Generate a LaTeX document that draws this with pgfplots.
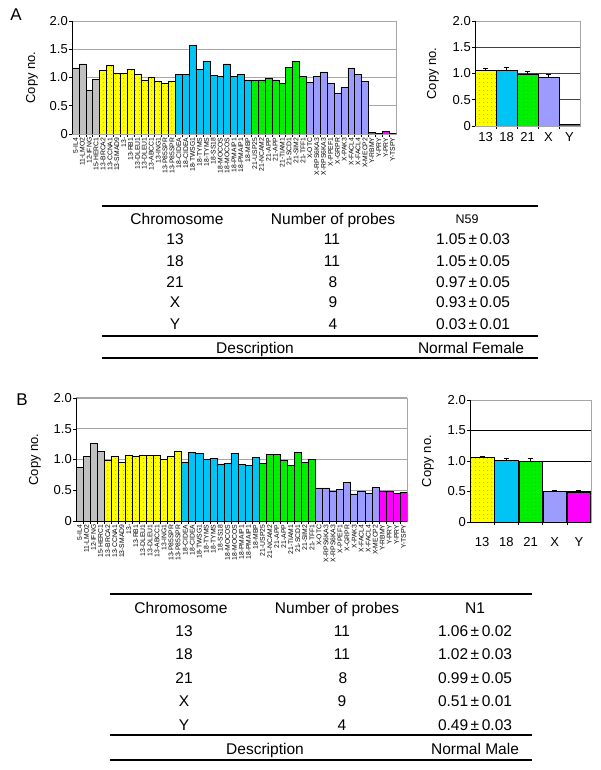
\documentclass[border=0pt]{standalone}
\usepackage{fontspec}
\setmainfont{Liberation Sans}
\usepackage{pgfplots}
\pgfplotsset{compat=1.18}
\usetikzlibrary{patterns.meta}
\definecolor{cgray}{HTML}{C0C0C0}
\definecolor{cyel}{HTML}{FFFF00}
\definecolor{cblue}{HTML}{00C4F4}
\definecolor{cgreen}{HTML}{00F000}
\definecolor{clav}{HTML}{9C9CFF}
\definecolor{cmag}{HTML}{FF00FF}
\definecolor{gridc}{HTML}{A6A6A6}
\newcommand\tf{\fontsize{15.5}{18}\selectfont}
\newcommand\lf{\fontsize{13}{15}\selectfont}
\tikzset{dotfill/.style={postaction={pattern={Dots[distance=4pt,radius=0.45pt]},pattern color=black!60}}}
\pgfplotsset{
  cn/.style={
    scale only axis, ymin=0, ymax=2,
    ytick={0,0.5,1,1.5,2}, yticklabels={0,0.5,1.0,1.5,2.0},
    axis line style={draw=gridc, line width=0.6pt},
    tick align=outside, ytick pos=left, xtick pos=bottom,
    major tick length=3pt, minor tick length=3pt,
    tick style={black, line width=0.5pt},
    major x tick style={draw=none},
    ymajorgrids, major grid style={draw=gridc, line width=0.8pt},
    yticklabel style={font=\lf, inner sep=1pt},
    /pgf/number format/assume math mode=true,
    ylabel={Copy no.},
    every axis y label/.style={rotate=90, anchor=center, font=\lf},
  },
  bar/.style={ybar, bar width=1, bar shift=0pt, draw=black, line width=0.5pt},
  errs/.style={error bars/.cd, y dir=plus, y explicit,
    error bar style={line width=0.7pt, black},
    error mark options={rotate=90, mark size=2.5pt, line width=0.7pt, black}},
}
\def\probes{5-IL4,11-LMO2,12-IFNG,15-HERC1,13-BRCA2,13-CCNA1,13-SMAD9,13-,13-RB1,13-DLEU1,13-DLEU1,13-ABCC1,13-ING1,13-P85SPR,13-P85SPR,18-CIDEA,18-CIDEA,18-TWSG1,18-TYMS,18-TYMS,18-SS18,18-MOCOS,18-MOCOS,18-PMAIP1,18-PMAIP1,18-MBP,21-USP25,21-NCAM2,21-APP,21-APP,21-TIAM1,21-SCD1,21-SIM2,21-TFF1,X-OTC,X-RPS6KA3,X-RPS6KA3,X-PPEF1,X-GRPR,X-PAK3,X-FACL4,X-FACL4,X-MECP2,Y-RBMY,Y-PRY,Y-PRY,Y-TSPY}
\begin{document}
\begin{tikzpicture}
\path[use as bounding box] (0,0) rectangle (600pt,-770pt);
\node[font=\fontsize{17}{19}\selectfont] at (16pt,-15pt) {A};
\node[font=\fontsize{17}{19}\selectfont] at (22pt,-400pt) {B};

% ---------- A main ----------
\begin{axis}[cn, at={(72pt,-21pt)}, anchor=north west, width=324pt, height=113pt,
  xmin=-0.5, xmax=46.5, xtick={0,...,46}, minor x tick num=1,
  xticklabels/.expanded={\probes},
  xticklabel style={rotate=90, anchor=east, font=\fontsize{6.8}{7}\selectfont, inner sep=0.5pt},
  ylabel style={at={([xshift=-40pt]rel axis cs:0,0.5)}},
  major grid style={draw=gridc, line width=0.6pt}]
\addplot[bar, fill=cgray] coordinates {(0,1.17) (1,1.24) (2,0.78) (3,0.97)};
\addplot[bar, fill=cyel, dotfill] coordinates {(4,1.13) (5,1.22) (6,1.07) (7,1.07) (8,1.14) (9,1.05) (10,0.95) (11,1.01) (12,0.94) (13,0.89) (14,0.93)};
\addplot[bar, fill=cblue] coordinates {(15,1.05) (16,1.05) (17,1.57) (18,1.15) (19,1.29) (20,1.04) (21,1.02) (22,1.24) (23,1.02) (24,1.05) (25,0.96)};
\addplot[bar, fill=cgreen, dotfill] coordinates {(26,0.95) (27,0.96) (28,0.98) (29,0.96) (30,0.89) (31,1.18) (32,1.28) (33,1.02)};
\addplot[bar, fill=clav] coordinates {(34,0.92) (35,1.02) (36,1.10) (37,0.90) (38,0.73) (39,0.82) (40,1.17) (41,1.06) (42,0.93)};
\addplot[bar, fill=cmag, dotfill] coordinates {(43,0.03) (44,0.01) (45,0.05) (46,0.005)};
\draw[black, line width=0.6pt] (rel axis cs:0,1) -- (rel axis cs:0,0) -- (rel axis cs:1,0);
\end{axis}

% ---------- A small ----------
\begin{axis}[cn, at={(475pt,-21pt)}, anchor=north west, width=105pt, height=105pt,
  xmin=-0.5, xmax=4.5, xtick={0,...,4}, minor x tick num=1,
  xticklabels={13,18,21,X,Y}, xticklabel style={font=\lf},
  ylabel style={at={([xshift=-42pt]rel axis cs:0,0.5)}},
  major grid style={draw=black!75, line width=0.8pt}]
\addplot[bar, fill=cyel, dotfill, errs] coordinates {(0,1.07) +- (0,0.03)};
\addplot[bar, fill=cblue, errs] coordinates {(1,1.06) +- (0,0.05)};
\addplot[bar, fill=cgreen, dotfill, errs] coordinates {(2,0.99) +- (0,0.05)};
\addplot[bar, fill=clav, errs] coordinates {(3,0.93) +- (0,0.05)};
\addplot[bar, fill=cmag, errs] coordinates {(4,0.03) +- (0,0.01)};
\draw[gridc, line width=0.8pt] (rel axis cs:0,1) -- (rel axis cs:1,1);
\draw[black, line width=0.6pt] (rel axis cs:0,1) -- (rel axis cs:0,0) -- (rel axis cs:1,0);
\end{axis}

% ---------- A table ----------
\draw[line width=1.1pt] (102pt,-206pt) -- (538pt,-206pt);
\draw[line width=1.1pt] (102pt,-336pt) -- (538pt,-336pt);
\draw[line width=1.1pt] (102pt,-358pt) -- (538pt,-358pt);
\begin{scope}[every node/.style={anchor=base, font=\tf, inner sep=0pt}]
\node at (177pt,-224pt) {Chromosome};
\node at (333pt,-224pt) {Number of probes};
\node[font=\fontsize{12.5}{14}\selectfont] at (467pt,-223pt) {N59};
\node at (175pt,-244pt) {13}; \node at (332pt,-244pt) {11}; \node at (473pt,-244pt) {1.05\,±\,0.03};
\node at (175pt,-266.5pt) {18}; \node at (332pt,-266.5pt) {11}; \node at (473pt,-266.5pt) {1.05\,±\,0.05};
\node at (175pt,-287pt) {21}; \node at (333pt,-287pt) {8}; \node at (473pt,-287pt) {0.97\,±\,0.05};
\node at (175pt,-307.5pt) {X}; \node at (333pt,-307.5pt) {9}; \node at (473pt,-307.5pt) {0.93\,±\,0.05};
\node at (175pt,-329pt) {Y}; \node at (333pt,-329pt) {4}; \node at (473pt,-329pt) {0.03\,±\,0.01};
\node at (255pt,-353pt) {Description};
\node at (471pt,-353pt) {Normal Female};
\end{scope}

% ---------- B main ----------
\begin{axis}[cn, at={(76pt,-398pt)}, anchor=north west, width=331pt, height=123pt,
  xmin=-0.5, xmax=46.5, xtick={0,...,46}, minor x tick num=1,
  xticklabels/.expanded={\probes},
  xticklabel style={rotate=90, anchor=east, font=\fontsize{6.8}{7}\selectfont, inner sep=0.5pt},
  ylabel style={at={([xshift=-41pt]rel axis cs:0,0.5)}},
  major grid style={draw=gridc, line width=1.1pt}]
\addplot[bar, fill=cgray] coordinates {(0,0.87) (1,1.05) (2,1.26) (3,1.13)};
\addplot[bar, fill=cyel, dotfill] coordinates {(4,0.99) (5,1.06) (6,0.96) (7,1.07) (8,1.06) (9,1.07) (10,1.07) (11,1.07) (12,1.00) (13,1.06) (14,1.14)};
\addplot[bar, fill=cblue] coordinates {(15,0.96) (16,1.11) (17,1.10) (18,1.01) (19,1.02) (20,0.93) (21,0.94) (22,1.10) (23,0.92) (24,0.91) (25,1.03)};
\addplot[bar, fill=cgreen, dotfill] coordinates {(26,0.94) (27,1.08) (28,1.08) (29,0.99) (30,0.90) (31,1.12) (32,0.95) (33,1.00)};
\addplot[bar, fill=clav] coordinates {(34,0.54) (35,0.54) (36,0.49) (37,0.52) (38,0.63) (39,0.44) (40,0.49) (41,0.455) (42,0.55)};
\addplot[bar, fill=cmag, dotfill] coordinates {(43,0.49) (44,0.49) (45,0.455) (46,0.47)};
\draw[black, line width=0.6pt] (rel axis cs:0,1) -- (rel axis cs:0,0) -- (rel axis cs:1,0);
\end{axis}

% ---------- B small ----------
\begin{axis}[cn, at={(470pt,-400pt)}, anchor=north west, width=121pt, height=122pt,
  xmin=-0.5, xmax=4.5, xtick={0,...,4}, minor x tick num=1,
  xticklabels={13,18,21,X,Y}, xticklabel style={font=\lf, yshift=-9pt},
  ylabel style={at={([xshift=-42pt]rel axis cs:0,0.5)}},
  major grid style={draw=black, line width=0.9pt}]
\addplot[bar, bar width=0.97, fill=cyel, dotfill, errs] coordinates {(0,1.06) +- (0,0.02)};
\addplot[bar, bar width=0.97, fill=cblue, errs] coordinates {(1,1.02) +- (0,0.03)};
\addplot[bar, bar width=0.97, fill=cgreen, dotfill, errs] coordinates {(2,0.99) +- (0,0.05)};
\addplot[bar, bar width=0.97, fill=clav, errs] coordinates {(3,0.51) +- (0,0.01)};
\addplot[bar, bar width=0.97, fill=cmag, dotfill, errs] coordinates {(4,0.49) +- (0,0.03)};
\draw[gridc, line width=0.8pt] (rel axis cs:0,1) -- (rel axis cs:1,1);
\draw[black, line width=0.6pt] (rel axis cs:0,1) -- (rel axis cs:0,0) -- (rel axis cs:1,0);
\end{axis}

% ---------- B table ----------
\draw[line width=1.1pt] (110pt,-594pt) -- (532pt,-594pt);
\draw[line width=1.1pt] (110pt,-735pt) -- (532pt,-735pt);
\draw[line width=1.1pt] (110pt,-760pt) -- (532pt,-760pt);
\begin{scope}[every node/.style={anchor=base, font=\tf, inner sep=0pt}]
\node at (181pt,-613pt) {Chromosome};
\node at (337pt,-613pt) {Number of probes};
\node at (475pt,-613pt) {N1};
\node at (184pt,-636.5pt) {13}; \node at (342pt,-636.5pt) {11}; \node at (475pt,-636.5pt) {1.06\,±\,0.02};
\node at (184pt,-659pt) {18}; \node at (342pt,-659pt) {11}; \node at (475pt,-659pt) {1.02\,±\,0.03};
\node at (184pt,-683pt) {21}; \node at (343pt,-683pt) {8}; \node at (475pt,-683pt) {0.99\,±\,0.05};
\node at (184pt,-706pt) {X}; \node at (342pt,-706pt) {9}; \node at (475pt,-706pt) {0.51\,±\,0.01};
\node at (184pt,-730pt) {Y}; \node at (342pt,-730pt) {4}; \node at (475pt,-730pt) {0.49\,±\,0.03};
\node at (265pt,-754pt) {Description};
\node at (475pt,-754pt) {Normal Male};
\end{scope}
\end{tikzpicture}
\end{document}
